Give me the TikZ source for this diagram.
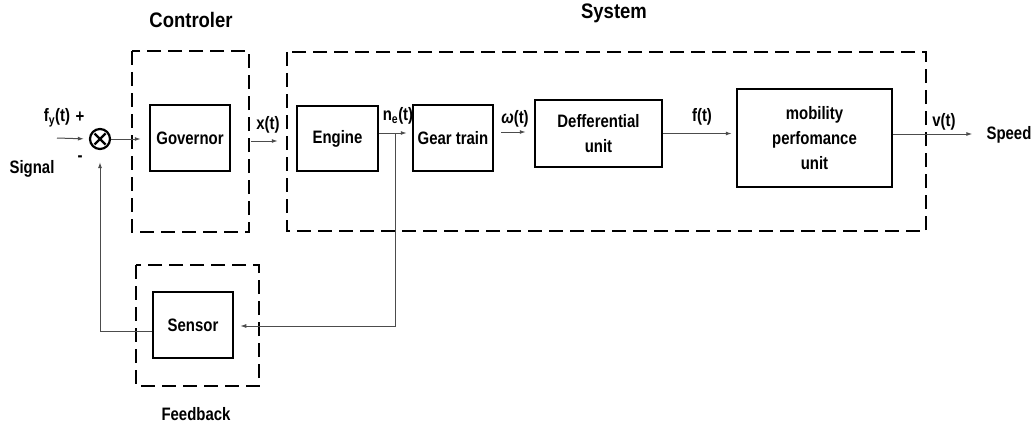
\documentclass[tikz,border=0pt]{standalone}
\usepackage{fontspec}
\setmainfont{Liberation Sans}
\newfontfamily\condf{Liberation Sans}[FakeStretch=0.83]
\newfontfamily\condt{Liberation Sans}[FakeStretch=0.88]
\usetikzlibrary{arrows.meta,calc}
\begin{document}
\begin{tikzpicture}[x=1pt,y=-1pt,
  lab/.style={inner sep=0pt,font=\condf\fontsize{18}{20}\selectfont\bfseries},
  ttl/.style={inner sep=0pt,font=\condt\fontsize{21}{23}\selectfont\bfseries},
  blk/.style={draw,line width=2.5pt,inner sep=0pt,align=center,font=\condf\fontsize{18}{25}\selectfont\bfseries},
  grp/.style={line width=2.8pt,dash pattern=on 14pt off 7pt},
  conn/.style={draw=black!70,line width=1pt},
  arr/.style={conn,-{Latex[length=6pt,width=4pt]}}
]
\useasboundingbox (0,0) rectangle (1033,428);
% group frames
\draw[grp] (132,51) rectangle (249,232);
\draw[grp] (287,52) rectangle (926,231);
\draw[grp] (136,265) rectangle (259,386);
\node[ttl] (tctrl) at (191,20) {Controler};
\node[ttl] (tsys) at (614,13) {System};
\node[lab] (tfb) at (196,414) {Feedback};
% blocks
\node[blk,minimum width=80pt,minimum height=66pt] (gov) at (190,138) {Governor};
\node[blk,minimum width=81pt,minimum height=65pt] (eng) at (337.5,138.5) {Engine};
\node[blk,minimum width=80pt,minimum height=66pt] (gear) at (453,138) {Gear train};
\node[blk,minimum width=127pt,minimum height=67pt] (diff) at (598.5,133.5) {Defferential\\unit};
\node[blk,minimum width=155pt,minimum height=98pt] (mob) at (814.5,138) {mobility\\perfomance\\unit};
\node[blk,minimum width=80pt,minimum height=66pt] (sens) at (193,325) {Sensor};
% summing junction
\node[draw,circle,line width=2.2pt,minimum size=20pt,inner sep=0pt] (sum) at (100,139) {};
\draw[line width=2.2pt] ($(sum.center)+(-5.5,-5.5)$) -- ($(sum.center)+(5.5,5.5)$);
\draw[line width=2.2pt] ($(sum.center)+(-5.5,5.5)$) -- ($(sum.center)+(5.5,-5.5)$);
% labels
\node[lab] (lfy) at (57,118) {f\textsubscript{y}(t)};
\node[lab] (lplus) at (80,117) {+};
\node[lab] (lminus) at (80,159) {-};
\node[lab] (lsig) at (32,169) {Signal};
\node[lab] (lx) at (268,125) {x(t)};
\node[lab] (lne) at (398,116) {n\textsubscript{e}(t)};
\node[lab] (lw) at (515,119) {\textit{ω}(t)};
\node[lab] (lf) at (702,117) {f(t)};
\node[lab] (lv) at (944,122) {v(t)};
\node[lab] (speed) at (1009,135) {Speed};
% connectors
\coordinate (inp) at (57,138);
\coordinate (tap) at (395,133);
\draw[arr,shorten >=5pt] (inp) -- (sum.west);
\draw[arr,shorten >=8pt] (sum.east) -- (gov.west |- sum.east);
\draw[arr,shorten <=20pt,shorten >=18pt] (gov.east |- 0,141) -- (eng.west |- 0,141);
\draw[arr,shorten >=5pt] (eng.east |- tap) -- (gear.west |- tap);
\draw[arr,shorten <=7pt,shorten >=8pt] (gear.east |- 0,132) -- (diff.west |- 0,132);
\draw[arr,shorten >=4pt] (diff.east) -- (mob.west |- diff.east);
\draw[arr,shorten >=14pt] (mob.east |- 0,134) -- (speed.west |- 0,134);
\draw[arr,shorten >=6pt] (tap) |- (sens.east |- 0,326);
\draw[arr,shorten >=12pt] (sens.west |- 0,331) -| (sum.south);
\end{tikzpicture}
\end{document}
